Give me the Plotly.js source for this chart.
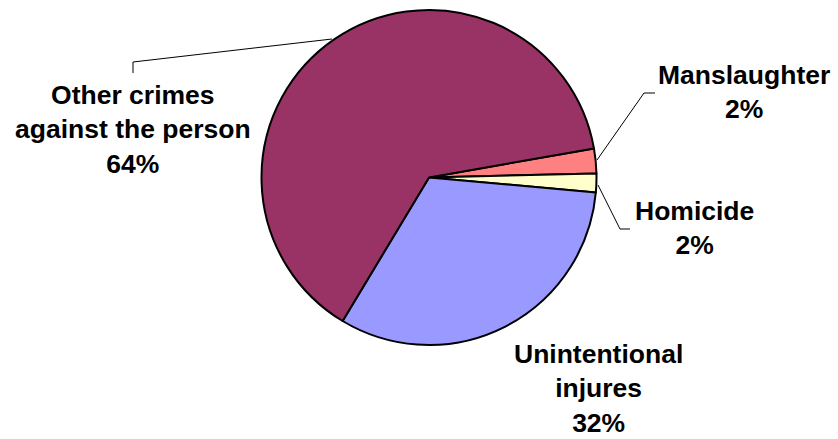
<!DOCTYPE html>
<html><head><meta charset="utf-8">
<script src="https://cdn.plot.ly/plotly-3.0.1.min.js"></script>
<style>html,body{margin:0;padding:0;background:#fff;}#chart{width:838px;height:439px;}</style>
</head><body><div id="chart"></div>
<script>
const categories = ["Manslaughter", "Homicide", "Unintentional injures", "Other crimes against the person"];
const labelLines = [["Manslaughter"], ["Homicide"], ["Unintentional", "injures"], ["Other crimes", "against the person"]];
const values = [2.4, 1.8, 32.2, 63.6];
const colors = ["#FF8080", "#FFFFCC", "#9999FF", "#993366"];

const W = 838, H = 439;
const px = x => x / W;
const py = y => 1 - y / H;

const total = values.reduce((a, b) => a + b, 0);
const pct = values.map(v => Math.round(v / total * 100) + "%");

// label anchor positions (pixels) for each category
const labelPos = [[744, 92], [694, 228], [598, 388], [133, 130]];

const annotations = categories.map((c, i) => ({
  xref: "paper", yref: "paper",
  x: px(labelPos[i][0]), y: py(labelPos[i][1]),
  xanchor: "center", yanchor: "middle",
  text: labelLines[i].concat([pct[i]]).join("<br>"),
  showarrow: false, align: "center",
  font: {family: "Liberation Sans, Arial, sans-serif", size: 26.5, color: "#000", weight: "bold"}
}));

const leaders = [
  [[655, 93], [644, 93], [597, 160]],
  [[630, 229], [620, 229], [598, 185]],
  [[133, 73], [133, 62], [332, 39]]
];
const shapes = leaders.map(pts => ({
  type: "path", xref: "paper", yref: "paper",
  path: pts.map((p, j) => (j ? "L" : "M") + px(p[0]) + "," + py(p[1])).join(" "),
  line: {color: "#000", width: 1}
}));

const cx = 429, cy = 177.5, r = 167.5;
const data = [{
  type: "pie",
  labels: categories,
  values: values,
  sort: false,
  direction: "clockwise",
  rotation: 80,
  textinfo: "none",
  hoverinfo: "label+percent",
  marker: {colors: colors, line: {color: "#000", width: 2}},
  domain: {x: [px(cx - r), px(cx + r)], y: [py(cy + r), py(cy - r)]}
}];

const layout = {
  width: W, height: H,
  margin: {l: 0, r: 0, t: 0, b: 0},
  paper_bgcolor: "#fff",
  showlegend: false,
  annotations: annotations,
  shapes: shapes
};
Plotly.newPlot("chart", data, layout, {displayModeBar: false, staticPlot: true});
</script></body></html>
